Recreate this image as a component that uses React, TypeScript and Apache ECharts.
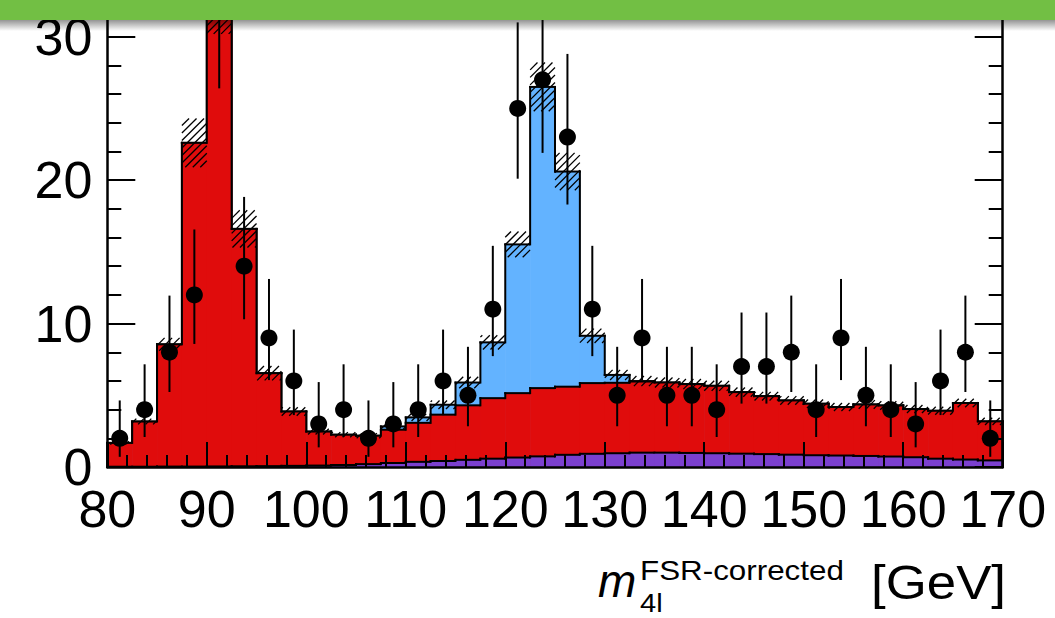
import React, { useEffect, useRef } from 'react';
import * as echarts from 'echarts';

// ---- data ----
const binCenters = [81.25, 83.75, 86.25, 88.75, 91.25, 93.75, 96.25, 98.75, 101.25, 103.75, 106.25, 108.75,
  111.25, 113.75, 116.25, 118.75, 121.25, 123.75, 126.25, 128.75, 131.25, 133.75, 136.25, 138.75,
  141.25, 143.75, 146.25, 148.75, 151.25, 153.75, 156.25, 158.75, 161.25, 163.75, 166.25, 168.75];
const BIN_WIDTH = 2.5;

// Z+X background (purple)
const zxValues = [0.02, 0.02, 0.03, 0.03, 0.04, 0.05, 0.06, 0.08, 0.1, 0.14, 0.2, 0.28,
  0.36, 0.42, 0.5, 0.58, 0.66, 0.74, 0.85, 0.92, 0.96, 1.0, 1.0, 0.98,
  0.96, 0.93, 0.9, 0.86, 0.82, 0.8, 0.77, 0.73, 0.68, 0.58, 0.52, 0.46];
// ZZ background (red)
const zzValues = [1.66, 3.15, 8.52, 22.57, 32.46, 16.55, 6.48, 3.79, 2.37, 2.11, 1.98, 2.32,
  2.72, 3.23, 3.8, 4.22, 4.49, 4.76, 4.75, 4.93, 4.91, 4.96, 4.89, 4.8,
  4.7, 4.29, 4.04, 3.78, 3.59, 3.38, 3.59, 3.56, 3.36, 3.34, 3.94, 2.72];
// Higgs signal (blue)
const higgsValues = [0, 0, 0, 0, 0, 0, 0, 0, 0, 0, 0, 0.23,
  0.38, 0.69, 1.59, 3.89, 10.37, 21.0, 15.0, 3.3, 0.55, 0.03, 0, 0,
  0, 0, 0, 0, 0, 0, 0, 0, 0, 0, 0, 0];
// uncertainty band half-width on the total (hatched)
const systErr = [0.12, 0.2, 0.45, 1.7, 2.3, 1.3, 0.5, 0.3, 0.2, 0.18, 0.18, 0.2,
  0.25, 0.3, 0.4, 0.5, 0.9, 1.7, 1.3, 0.5, 0.35, 0.35, 0.35, 0.35,
  0.35, 0.32, 0.3, 0.3, 0.3, 0.28, 0.3, 0.3, 0.28, 0.28, 0.3, 0.25];
// observed events
const dataCounts = [2, 4, 8, 12, 32, 14, 9, 6, 3, 4, 2, 3,
  4, 6, 5, 11, 25, 27, 23, 11, 5, 9, 5, 5,
  4, 7, 7, 8, 4, 9, 5, 4, 3, 6, 8, 2];
const dataLow = [0.71, 2.09, 5.23, 8.58, 26.4, 10.3, 6.06, 3.62, 1.37, 2.09, 0.71, 1.37,
  2.09, 3.62, 2.84, 7.73, 20.1, 21.9, 18.3, 7.73, 2.84, 6.06, 2.84, 2.84,
  2.09, 4.42, 4.42, 5.23, 2.09, 6.06, 2.84, 2.09, 1.37, 3.62, 5.23, 0.71];
const dataHigh = [4.64, 7.16, 11.95, 16.56, 38.7, 18.83, 13.11, 9.58, 5.92, 7.16, 4.64, 5.92,
  7.16, 9.58, 8.38, 15.42, 31.0, 33.3, 28.8, 15.42, 8.38, 13.11, 8.38, 8.38,
  7.16, 10.77, 10.77, 11.95, 7.16, 13.11, 8.38, 7.16, 5.92, 9.58, 11.95, 4.64];

const xTickLabels = [80, 90, 100, 110, 120, 130, 140, 150, 160, 170];
const yTickLabels = [0, 10, 20, 30];

const COLORS = { zx: '#7B40CF', zz: '#E00C0C', higgs: '#63B3FF', band: '#72BF44' };
const FONT = "'Liberation Sans', Arial, Helvetica, sans-serif";

const Y_MAX = 32;
const PX_PER_UNIT = 14.343;
const X_AXIS_Y = 467;

export default function App() {
  const ref = useRef<HTMLDivElement>(null);

  useEffect(() => {
    if (!ref.current) return;
    const chart = echarts.init(ref.current, undefined, { renderer: 'svg' });
    const n = binCenters.length;
    const cumZX = zxValues.slice();
    const cumZZ = zxValues.map((v, i) => v + zzValues[i]);
    const cumAll = cumZZ.map((v, i) => v + higgsValues[i]);

    const histSeries = (name: string, cum: number[], color: string, z: number) => ({
      type: 'custom',
      name,
      z,
      data: binCenters.map((c, i) => [c - BIN_WIDTH / 2, c + BIN_WIDTH / 2, cum[i], i > 0 ? cum[i - 1] : 0, i === n - 1 ? 1 : 0]),
      encode: { x: 0, y: 2 },
      renderItem: (_params: any, api: any) => {
        const x0 = api.value(0), x1 = api.value(1), top = api.value(2), prev = api.value(3), last = api.value(4);
        const pBase = api.coord([x0, 0]);
        const pTop = api.coord([x1, top]);
        const pPrev = api.coord([x0, prev]);
        const line = { stroke: '#000', lineWidth: 2, lineCap: 'square' };
        const children: any[] = [
          { type: 'rect', shape: { x: pBase[0], y: pTop[1], width: pTop[0] - pBase[0] + 0.6, height: pBase[1] - pTop[1] }, style: { fill: color } },
          { type: 'line', shape: { x1: pBase[0], y1: pTop[1], x2: pTop[0], y2: pTop[1] }, style: line },
          { type: 'line', shape: { x1: pBase[0], y1: pPrev[1], x2: pBase[0], y2: pTop[1] }, style: line },
        ];
        if (last) children.push({ type: 'line', shape: { x1: pTop[0], y1: pTop[1], x2: pTop[0], y2: pBase[1] }, style: line });
        return { type: 'group', children };
      },
    });

    const hatchSeries = {
      type: 'custom',
      name: 'uncertainty',
      z: 6,
      data: binCenters.map((c, i) => [c - BIN_WIDTH / 2, c + BIN_WIDTH / 2, cumAll[i] - systErr[i], cumAll[i] + systErr[i]]),
      encode: { x: 0, y: 3 },
      renderItem: (_params: any, api: any) => {
        const a = api.coord([api.value(0), api.value(3)]);
        const b = api.coord([api.value(1), api.value(2)]);
        const xa = a[0], ya = a[1], xb = b[0], yb = b[1];
        const s = 7.5;
        const children: any[] = [];
        const cStart = Math.ceil((xa + ya) / s) * s;
        for (let c = cStart; c <= xb + yb; c += s) {
          const xs = Math.max(xa, c - yb);
          const xe = Math.min(xb, c - ya);
          if (xe - xs < 0.5) continue;
          children.push({ type: 'line', shape: { x1: xs, y1: c - xs, x2: xe, y2: c - xe }, style: { stroke: '#000', lineWidth: 1.3 } });
        }
        return { type: 'group', children };
      },
    };

    const dataSeries = {
      type: 'custom',
      name: 'Data',
      z: 8,
      data: binCenters.map((c, i) => [c, dataCounts[i], dataLow[i], dataHigh[i]]),
      encode: { x: 0, y: 1 },
      renderItem: (_params: any, api: any) => {
        const p = api.coord([api.value(0), api.value(1)]);
        const lo = api.coord([api.value(0), api.value(2)]);
        const hi = api.coord([api.value(0), api.value(3)]);
        return {
          type: 'group',
          children: [
            { type: 'line', shape: { x1: lo[0], y1: lo[1], x2: hi[0], y2: hi[1] }, style: { stroke: '#000', lineWidth: 2 } },
            { type: 'circle', shape: { cx: p[0], cy: p[1], r: 8.5 }, style: { fill: '#000' } },
          ],
        };
      },
    };

    // major ticks (every 10) and minor ticks (every 2) on separate overlaid axes
    const yMajor = (position: string, withLabels: boolean) => ({
      type: 'value',
      min: 0,
      max: Y_MAX,
      interval: 10,
      position,
      z: 10,
      splitLine: { show: false },
      axisLine: { show: true, lineStyle: { color: '#000', width: 2.5 } },
      axisTick: { show: true, inside: true, length: 28, lineStyle: { color: '#000', width: 2 } },
      axisLabel: withLabels
        ? {
          show: true, margin: 15, color: '#000', fontSize: 52, lineHeight: 40, fontFamily: FONT,
          formatter: (v: number) => (yTickLabels.includes(v) ? String(v) : ''),
        }
        : { show: false },
    });
    const yMinor = (position: string) => ({
      type: 'value',
      min: 0,
      max: Y_MAX,
      interval: 2,
      position,
      z: 10,
      splitLine: { show: false },
      axisLine: { show: false },
      axisTick: { show: true, inside: true, length: 14, lineStyle: { color: '#000', width: 2 } },
      axisLabel: { show: false },
    });

    chart.setOption({
      animation: false,
      backgroundColor: '#fff',
      grid: { left: 107.3, right: 1055 - 1002.7, top: X_AXIS_Y - Y_MAX * PX_PER_UNIT, bottom: 618 - X_AXIS_Y, containLabel: false },
      xAxis: [{
        type: 'value',
        min: 80,
        max: 170,
        interval: 10,
        position: 'bottom',
        z: 10,
        splitLine: { show: false },
        axisLine: { show: true, onZero: false, lineStyle: { color: '#000', width: 2.5 } },
        axisTick: { show: true, inside: true, length: 25, lineStyle: { color: '#000', width: 2 } },
        minorTick: { show: true, splitNumber: 5, length: 12, lineStyle: { color: '#000', width: 2 } },
        axisLabel: {
          show: true, margin: 22, color: '#000', fontSize: 52, lineHeight: 40, fontFamily: FONT,
          formatter: (v: number) => (xTickLabels.includes(v) ? String(v) : ''),
          showMinLabel: true, showMaxLabel: true,
        },
      }],
      yAxis: [yMajor('left', true), yMinor('left'), yMajor('right', false), yMinor('right')],
      series: [
        histSeries('Higgs', cumAll, COLORS.higgs, 2),
        histSeries('ZZ', cumZZ, COLORS.zz, 3),
        histSeries('Z+X', cumZX, COLORS.zx, 4),
        hatchSeries,
        dataSeries,
      ],
      graphic: [
        {
          type: 'rect', z: 100, shape: { x: 0, y: 20, width: 1055, height: 11 },
          style: {
            fill: new echarts.graphic.LinearGradient(0, 0, 0, 1, [
              { offset: 0, color: 'rgba(0,0,0,0.42)' },
              { offset: 1, color: 'rgba(0,0,0,0)' },
            ]),
          },
        },
        { type: 'rect', z: 101, shape: { x: 0, y: 0, width: 1055, height: 20 }, style: { fill: COLORS.band } },
        {
          type: 'text', z: 50, x: 598, y: 581,
          style: { text: 'm', fontSize: 46, fontStyle: 'italic', fontFamily: FONT, fill: '#000', align: 'left', verticalAlign: 'middle' },
        },
        {
          type: 'text', z: 50, x: 640, y: 570.3, scaleX: 1.12,
          style: { text: 'FSR-corrected', fontSize: 28, fontFamily: FONT, fill: '#000', align: 'left', verticalAlign: 'middle' },
        },
        {
          type: 'text', z: 50, x: 640, y: 603, scaleX: 1.12,
          style: { text: '4l', fontSize: 26, fontFamily: FONT, fill: '#000', align: 'left', verticalAlign: 'middle' },
        },
        {
          type: 'text', z: 50, x: 1006, y: 582.4, scaleX: 1.1,
          style: { text: '[GeV]', fontSize: 48, fontFamily: FONT, fill: '#000', align: 'right', verticalAlign: 'middle' },
        },
      ],
    });

    return () => chart.dispose();
  }, []);

  return (
    <div
      ref={ref}
      style={{ position: 'fixed', left: 0, top: 0, width: 1055, height: 618, background: '#fff' }}
    />
  );
}
